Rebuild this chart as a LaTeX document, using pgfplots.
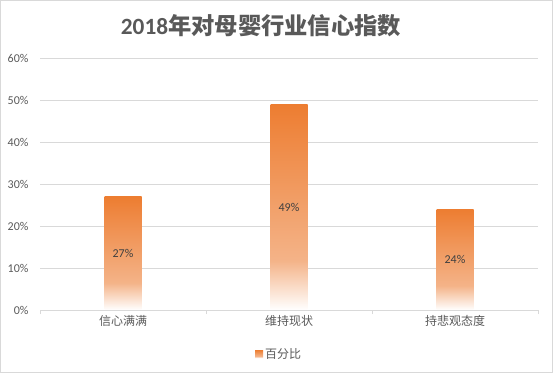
\documentclass[border=0pt]{standalone}
\usepackage{pgfplots}
\pgfplotsset{compat=1.18}
\usepackage{fontspec}
\setmainfont{Carlito}
\newfontfamily\cjk{Noto Sans CJK SC}
\definecolor{barorange}{HTML}{ED7D31}
\definecolor{barlight}{HTML}{F4B388}
\definecolor{gridgray}{HTML}{D9D9D9}
\definecolor{txtgray}{HTML}{595959}
\definecolor{lblgray}{HTML}{404040}
\pgfdeclareverticalshading{barshade}{100bp}{color(0bp)=(white); color(25bp)=(white); color(37bp)=(barlight); color(75bp)=(barorange); color(100bp)=(barorange)}
\begin{document}
\begin{tikzpicture}
\useasboundingbox (0,0) rectangle (553bp,373bp);
\draw[gridgray, line width=1bp] (0.5bp,0.5bp) rectangle (552.5bp,372.5bp);
\node[text=txtgray, font=\fontsize{23.3bp}{26bp}\selectfont\bfseries] at (261bp,347bp) {2018{\cjk 年对母婴行业信心指数}};
\begin{axis}[
  at={(40bp,63bp)}, anchor=south west,
  scale only axis, width=498bp, height=252bp,
  xmin=-0.5, xmax=2.5, ymin=0, ymax=60,
  axis x line*=bottom, axis y line*=left,
  x axis line style={draw=gridgray, line width=0.8bp},
  y axis line style={draw=none},
  ytick={0,10,...,60},
  ytick style={draw=none},
  yticklabel={\pgfmathprintnumber{\tick}\%},
  yticklabel style={text=txtgray, font=\fontsize{12bp}{14bp}\selectfont, xshift=-4bp},
  /pgf/number format/assume math mode=true,
  ymajorgrids, grid style={draw=gridgray, line width=0.8bp},
  xtick={-0.5,0.5,1.5,2.5}, xticklabels={},
  tick align=outside, major tick length=4bp,
  xtick style={draw=gridgray, line width=0.8bp},
  extra x ticks={0,1,2},
  extra x tick labels={{\cjk 信心满满},{\cjk 维持现状},{\cjk 持悲观态度}},
  extra x tick style={major tick length=0pt, xticklabel style={text=txtgray, font=\fontsize{12bp}{14bp}\selectfont, yshift=-2bp}, grid=none},
  legend style={at={(0.480,-0.175)}, anchor=center, draw=none, fill=none,
    font=\fontsize{12bp}{14bp}\selectfont, text=txtgray},
  legend image code/.code={\fill[shade, shading=barshade] (0bp,-4bp) rectangle (8bp,4bp);},
  barstyle/.style={ybar, bar width=37bp, bar shift=0pt, draw=none, shade, shading=barshade},
]
\addplot[barstyle] coordinates {(0,27)};
\addlegendentry{\cjk 百分比}
\addplot[barstyle, forget plot] coordinates {(1,49)};
\addplot[barstyle, forget plot] coordinates {(2,24)};
\addplot[draw=none, mark=none, forget plot, nodes near coords, point meta=explicit symbolic,
  every node near coord/.append style={anchor=center, text=lblgray, font=\fontsize{12bp}{14bp}\selectfont}]
  coordinates {(0,13.5)[27\%] (1,24.5)[49\%] (2,12)[24\%]};
\end{axis}
\end{tikzpicture}
\end{document}
